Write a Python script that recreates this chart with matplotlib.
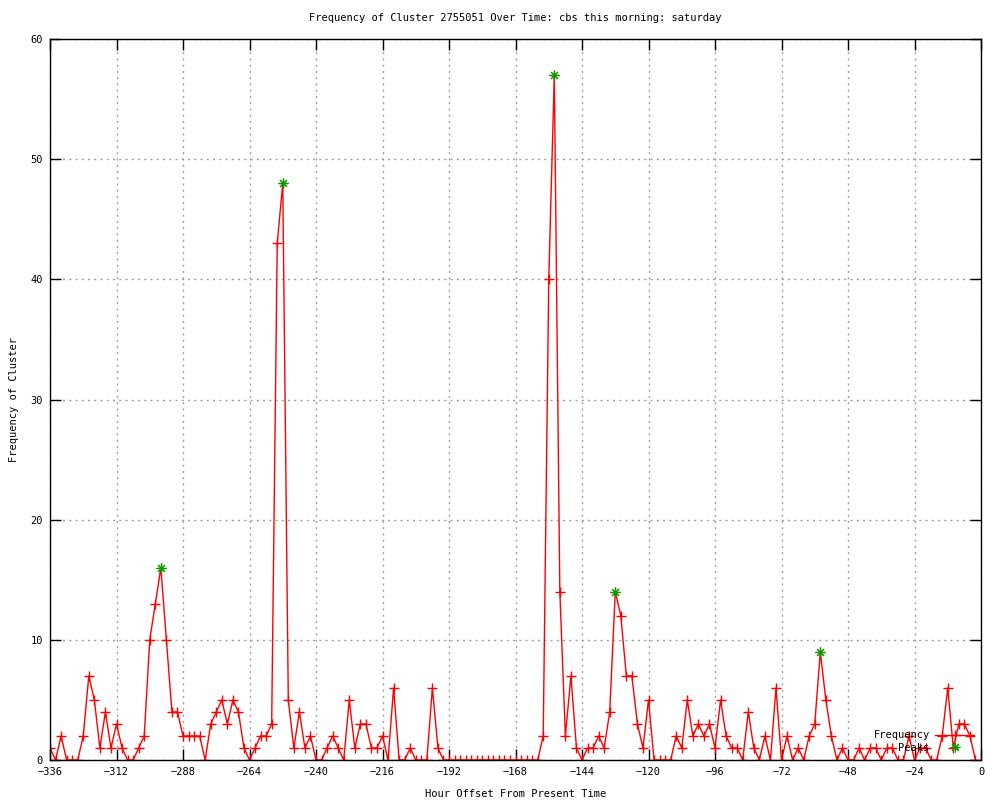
import numpy as np
import matplotlib
matplotlib.use("Agg")
import matplotlib.pyplot as plt

# hour offsets, every 2 hours from -336 to -2
hours = list(range(-336, 0, 2))

freq = [
    1, 0, 2, 0, 0, 0, 2, 7, 5, 1, 4, 1, 3, 1, 0, 0,       # -336 .. -306
    1, 2, 10, 13, 16, 10, 4, 4, 2, 2, 2, 2, 0, 3, 4, 5,   # -304 .. -274
    3, 5, 4, 1, 0, 1, 2, 2, 3, 43, 48, 5, 1, 4, 1, 2,     # -272 .. -242
    0, 0, 1, 2, 1, 0, 5, 1, 3, 3, 1, 1, 2, 0, 6, 0,       # -240 .. -210
    0, 1, 0, 0, 0, 6, 1, 0, 0, 0, 0, 0, 0, 0, 0, 0,       # -208 .. -178
    0, 0, 0, 0, 0, 0, 0, 0, 0, 2, 40, 57, 14, 2, 7, 1,    # -176 .. -146
    0, 1, 1, 2, 1, 4, 14, 12, 7, 7, 3, 1, 5, 0, 0, 0,     # -144 .. -114
    0, 2, 1, 5, 2, 3, 2, 3, 1, 5, 2, 1, 1, 0, 4, 1,       # -112 .. -82
    0, 2, 0, 6, 0, 2, 0, 1, 0, 2, 3, 9, 5, 2, 0, 1,       # -80 .. -50
    0, 0, 1, 0, 1, 1, 0, 1, 1, 0, 0, 2, 0, 1, 1, 0,       # -48 .. -18
    0, 2, 6, 1, 3, 3, 2, 0,                               # -16 .. -2
]

peak_hours = [-296, -252, -154, -132, -58]
peak_vals = [16, 48, 57, 14, 9]

x_ticks = list(range(-336, 1, 24))
y_ticks = list(range(0, 61, 10))

plt.rcParams['font.family'] = ['DejaVu Sans Mono']
plt.rcParams['font.size'] = 7.5

fig = plt.figure(figsize=(10, 8), dpi=100)
ax = fig.add_axes([0.05, 0.05, 0.931, 0.901])

ax.plot(hours, freq, color='red', linewidth=1, marker='+', markersize=7,
        markeredgewidth=1, label='Frequency')
ax.plot(peak_hours, peak_vals, linestyle='none', marker=(8, 2, 0),
        markersize=7, markeredgewidth=0.8, color='#00a000', label='Peaks')

ax.set_xlim(-336, 0)
ax.set_ylim(0, 60)
ax.set_xticks(x_ticks)
ax.set_yticks(y_ticks)
ax.tick_params(direction='in', length=8, width=1, top=True, right=True,
               labelsize=7.5, pad=5)
ax.grid(True, color='#a0a0a0', linestyle=(0, (1.5, 3)), linewidth=1)
for s in ax.spines.values():
    s.set_linewidth(1)

ax.set_title('Frequency of Cluster 2755051 Over Time: cbs this morning: saturday',
             fontsize=7.5, pad=13)
ax.set_xlabel('Hour Offset From Present Time', fontsize=7.5, labelpad=9)
ax.set_ylabel('Frequency of Cluster', fontsize=7.5, labelpad=8)

ax.legend(loc='lower right', bbox_to_anchor=(1.003, -0.003), frameon=False,
          markerfirst=False, fontsize=7.5, handlelength=3.8,
          handletextpad=0.5, labelspacing=0.25)

fig.savefig('out.png', dpi=100)
